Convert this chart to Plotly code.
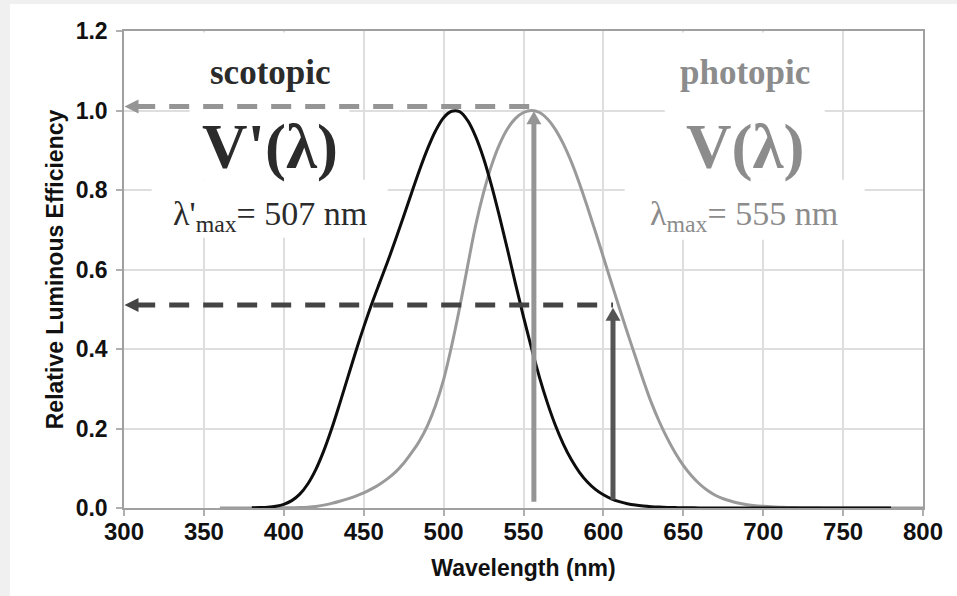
import plotly.graph_objects as go

# CIE 1924 photopic luminous efficiency V(lambda)
wl_photopic = [360, 365, 370, 375, 380, 385, 390, 395, 400, 405, 410, 415, 420, 425, 430, 435,
               440, 445, 450, 455, 460, 465, 470, 475, 480, 485, 490, 495, 500, 505, 510, 515,
               520, 525, 530, 535, 540, 545, 550, 555, 560, 565, 570, 575, 580, 585, 590, 595,
               600, 605, 610, 615, 620, 625, 630, 635, 640, 645, 650, 655, 660, 665, 670, 675,
               680, 685, 690, 695, 700, 705, 710, 715, 720, 725, 730, 735, 740, 745, 750, 760,
               770, 780, 790, 800]
v_photopic = [0.0000039, 0.000007, 0.0000124, 0.000022, 0.000039, 0.000064, 0.00012, 0.000217,
              0.000396, 0.00064, 0.00121, 0.00218, 0.004, 0.0073, 0.0116, 0.01684,
              0.023, 0.0298, 0.038, 0.048, 0.06, 0.0739, 0.09098, 0.1126,
              0.13902, 0.1693, 0.20802, 0.2586, 0.323, 0.4073, 0.503, 0.6082,
              0.71, 0.7932, 0.862, 0.91485, 0.954, 0.9803, 0.99495, 1.0,
              0.995, 0.9786, 0.952, 0.9154, 0.87, 0.8163, 0.757, 0.6949,
              0.631, 0.5668, 0.503, 0.4412, 0.381, 0.321, 0.265, 0.217,
              0.175, 0.1382, 0.107, 0.0816, 0.061, 0.04458, 0.032, 0.0232,
              0.017, 0.01192, 0.00821, 0.005723, 0.004102, 0.002929, 0.002091, 0.001484,
              0.001047, 0.00074, 0.00052, 0.000361, 0.000249, 0.000172, 0.00012, 0.00006,
              0.00003, 0.000015, 0.0000075, 0.0000037]

# CIE 1951 scotopic luminous efficiency V'(lambda)
wl_scotopic = [380, 385, 390, 395, 400, 405, 410, 415, 420, 425, 430, 435, 440, 445, 450, 455,
               460, 465, 470, 475, 480, 485, 490, 495, 500, 505, 510, 515, 520, 525, 530, 535,
               540, 545, 550, 555, 560, 565, 570, 575, 580, 585, 590, 595, 600, 605, 610, 615,
               620, 625, 630, 635, 640, 645, 650, 660, 670, 680, 690, 700, 720, 740, 760, 780]
v_scotopic = [0.000589, 0.001108, 0.002209, 0.00453, 0.00929, 0.01852, 0.03484, 0.0604,
              0.0966, 0.1436, 0.1998, 0.2625, 0.3281, 0.3931, 0.455, 0.513,
              0.567, 0.62, 0.676, 0.734, 0.793, 0.851, 0.904, 0.949,
              0.982, 0.998, 0.997, 0.975, 0.935, 0.88, 0.811, 0.733,
              0.65, 0.564, 0.481, 0.402, 0.3288, 0.2639, 0.2076, 0.1602,
              0.1212, 0.0899, 0.0655, 0.0469, 0.03315, 0.02312, 0.01593, 0.01088,
              0.00737, 0.00497, 0.003335, 0.002235, 0.0014967, 0.001, 0.000677, 0.000313,
              0.000148, 0.0000715, 0.0000353, 0.0000178, 0.0000048, 0.0000014, 0.0000004, 0.0000001]

x_ticks = [300, 350, 400, 450, 500, 550, 600, 650, 700, 750, 800]
y_ticks = [0.0, 0.2, 0.4, 0.6, 0.8, 1.0, 1.2]

photopic_peak = 556.5
photopic_half_wl = 606
peak_level = 1.01
half_level = 0.511

DARK = "#2b2b2b"
GRAY = "#8c8c8c"
LIGHT_ARROW = "#959595"
DARK_DASH = "#444444"
DARK_ARROW = "#555555"

fig = go.Figure()
fig.add_trace(go.Scatter(x=wl_photopic, y=v_photopic, mode="lines",
                         line=dict(color="#9a9a9a", width=3, shape="spline"),
                         hoverinfo="skip", showlegend=False))
fig.add_trace(go.Scatter(x=wl_scotopic, y=v_scotopic, mode="lines",
                         line=dict(color="#0d0d0d", width=3, shape="spline"),
                         hoverinfo="skip", showlegend=False))

shapes = []
# outer frame (white card on light gray page)
shapes.append(dict(type="rect", xref="paper", yref="paper", x0=-0.1427, x1=1.1, y0=-0.25, y1=1.0566,
                   fillcolor="white", line=dict(width=0), layer="below"))
# white text boxes hiding the grid
for (x0, x1, y0, y1) in [(341, 441, 0.826, 1.196), (317.3, 465, 0.68, 0.826),
                         (638.4, 738.5, 0.826, 1.196), (613.3, 763.5, 0.675, 0.826)]:
    shapes.append(dict(type="rect", xref="x", yref="y", x0=x0, x1=x1, y0=y0, y1=y1,
                       fillcolor="white", line=dict(width=0), layer="between"))
# dashed guide lines
shapes.append(dict(type="line", xref="x", yref="y", x0=307, x1=photopic_peak, y0=peak_level, y1=peak_level,
                   line=dict(color=LIGHT_ARROW, width=5, dash="20px,14px"), layer="above"))
shapes.append(dict(type="line", xref="x", yref="y", x0=307, x1=photopic_half_wl, y0=half_level, y1=half_level,
                   line=dict(color=DARK_DASH, width=5, dash="20px,14px"), layer="above"))
# vertical arrow shafts
shapes.append(dict(type="line", xref="x", yref="y", x0=photopic_peak, x1=photopic_peak, y0=0.016, y1=0.975,
                   line=dict(color=LIGHT_ARROW, width=5), layer="above"))
shapes.append(dict(type="line", xref="x", yref="y", x0=photopic_half_wl, x1=photopic_half_wl, y0=0.021, y1=0.48,
                   line=dict(color=DARK_ARROW, width=5), layer="above"))
# arrow heads (pixel-sized triangles anchored at data points)
def head(xa, ya, path, color):
    return dict(type="path", xref="x", yref="y", xsizemode="pixel", ysizemode="pixel",
                xanchor=xa, yanchor=ya, path=path, fillcolor=color, line=dict(width=0), layer="above")
left_head = "M0,0 L14,7 L14,-7 Z"
up_head = "M0,0 L-7.5,-13 L7.5,-13 Z"
shapes.append(head(300.3, peak_level, left_head, LIGHT_ARROW))
shapes.append(head(300.3, half_level, left_head, DARK_DASH))
shapes.append(head(photopic_peak, 0.998, up_head, LIGHT_ARROW))
shapes.append(head(photopic_half_wl, 0.504, up_head, DARK_ARROW))
fig.update_layout(shapes=shapes)

serif = "Liberation Serif, Times New Roman, serif"
def txt(x, y, text, size, color, bold):
    return dict(x=x, y=y, xref="paper", yref="paper", text=text, showarrow=False,
                xanchor="center", yanchor="middle",
                font=dict(family=serif, size=size, color=color, weight="bold" if bold else "normal"))

def px_x(px):
    return (px - 124) / 799
def px_y(py):
    return (508 - py) / 477

ann = []
ann.append(txt(px_x(270), px_y(72), "scotopic", 35, DARK, True))
ann.append(txt(px_x(270), px_y(147), "V'(λ)", 63, DARK, True))
ann.append(txt(px_x(270), px_y(216), "λ'<sub>max</sub>= 507 nm", 34, DARK, False))
ann.append(txt(px_x(745), px_y(72), "photopic", 35, GRAY, True))
ann.append(txt(px_x(745), px_y(147), "V(λ)", 63, GRAY, True))
ann.append(txt(px_x(744), px_y(216), "λ<sub>max</sub>= 555 nm", 34, GRAY, False))
fig.update_layout(annotations=ann)

sans = "Liberation Sans, Arial, sans-serif"
fig.update_layout(
    width=957, height=596,
    margin=dict(l=124, r=34, t=31, b=88),
    paper_bgcolor="#f0f0f0", plot_bgcolor="white",
    font=dict(family=sans, color="#111111"),
    xaxis=dict(range=[300, 800], tickvals=x_ticks, showgrid=True, gridcolor="#dedede", gridwidth=1.5,
               showline=True, linecolor="#a0a0a0", linewidth=1.5, mirror=True,
               ticks="outside", ticklen=6, tickcolor="#b0b0b0", tickwidth=1.5, ticklabelstandoff=-5,
               tickfont=dict(size=24, weight="bold", color="#111111"),
               title=dict(text="Wavelength (nm)", font=dict(size=23, weight="bold", color="#111111"), standoff=16),
               zeroline=False),
    yaxis=dict(range=[0, 1.2], tickvals=y_ticks, tickformat=".1f", showgrid=True, gridcolor="#dedede", gridwidth=1.5,
               showline=True, linecolor="#a0a0a0", linewidth=1.5, mirror=True,
               ticks="outside", ticklen=6, tickcolor="#b0b0b0", tickwidth=1.5, ticklabelstandoff=4,
               tickfont=dict(size=23, weight="bold", color="#111111"),
               title=dict(text="Relative Luminous Efficiency", font=dict(size=23, weight="bold", color="#111111"), standoff=6),
               zeroline=False),
)

fig.write_html("out.html")
